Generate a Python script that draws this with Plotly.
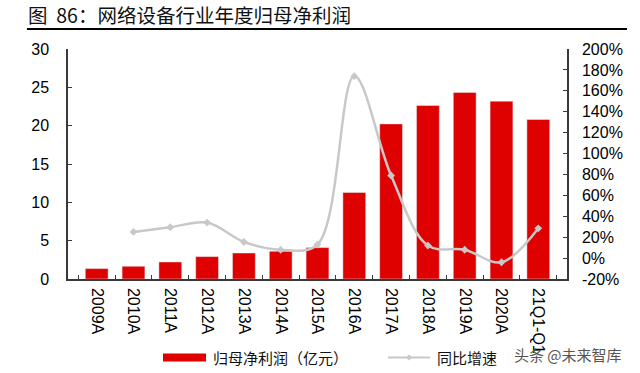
import plotly.graph_objects as go

categories = ["2009A", "2010A", "2011A", "2012A", "2013A", "2014A", "2015A",
              "2016A", "2017A", "2018A", "2019A", "2020A", "21Q1-Q1"]
profit = [1.36, 1.66, 2.22, 2.92, 3.39, 3.62, 4.10, 11.28, 20.23, 22.63, 24.33, 23.2, 20.8]
growth = [None, 25, 29.5, 34, 15.4, 8, 13, 174, 79, 12, 8, -4, 28.5]

left_ticks = [0, 5, 10, 15, 20, 25, 30]
right_ticks = list(range(-20, 201, 20))
right_labels = [f"{v}%" for v in right_ticks]

FONT = "Liberation Sans, Arial, Noto Sans CJK SC, sans-serif"
CJK = "Noto Sans CJK SC, sans-serif"
RED = "#DF0000"
GRAY = "#C8C8C8"
AX = "#3a3a3a"

W, H = 499, 229.7  # plot area size in px

fig = go.Figure()
fig.add_trace(go.Bar(x=categories, y=profit, marker_color=RED, width=0.62,
                     name="归母净利润（亿元）", yaxis="y"))
fig.add_trace(go.Scatter(x=categories, y=growth, mode="lines+markers",
                         line=dict(color=GRAY, width=2.5, shape="spline", smoothing=1.0),
                         marker=dict(symbol="diamond", size=6, color=GRAY),
                         name="同比增速", yaxis="y2", connectgaps=False))

fig.update_layout(
    width=640, height=373,
    margin=dict(l=68, r=73, t=49, b=94.3, autoexpand=False),
    paper_bgcolor="white", plot_bgcolor="white",
    showlegend=False,
    font=dict(family=FONT, size=15, color="#000"),
    xaxis=dict(type="category", showline=True, linecolor=AX, linewidth=1.5,
               ticks="inside", tickson="boundaries", ticklen=4, tickcolor=AX,
               tickangle=90, tickfont=dict(size=16), showgrid=False, zeroline=False,
               ticklabelstandoff=4, automargin=False),
    yaxis=dict(range=[0, 30], tickvals=left_ticks, showline=True, linecolor=AX,
               linewidth=1.5, ticks="inside", ticklen=4, tickcolor=AX,
               showgrid=False, zeroline=False, tickfont=dict(size=16),
               ticklabelstandoff=14, automargin=False),
    yaxis2=dict(range=[-20, 200], tickvals=right_ticks, ticktext=right_labels,
                overlaying="y", side="right", showline=True, linecolor=AX,
                linewidth=1.5, ticks="inside", ticklen=4, tickcolor=AX,
                showgrid=False, zeroline=False, tickfont=dict(size=16),
                ticklabelstandoff=10, automargin=False),
)

def px_x(x):
    return (x - 68) / W

def px_y(y):
    return (278.7 - y) / H

# Title and underline
fig.add_annotation(text="图\u00a0\u00a086：网络设备行业年度归母净利润", xref="paper", yref="paper",
                   x=px_x(26), y=px_y(15), xanchor="left", yanchor="middle",
                   showarrow=False, font=dict(family=CJK, size=19.5, color="#111"))
fig.add_shape(type="line", xref="paper", yref="paper",
              x0=px_x(27), x1=px_x(627), y0=px_y(29), y1=px_y(29),
              line=dict(color="#000", width=2))

# Custom legend
ly = px_y(357)
fig.add_shape(type="rect", xref="paper", yref="paper",
              x0=px_x(163), x1=px_x(206), y0=px_y(361), y1=px_y(353),
              fillcolor=RED, line=dict(width=0))
fig.add_annotation(text="归母净利润（亿元）", xref="paper", yref="paper",
                   x=px_x(211), y=ly, xanchor="left", yanchor="middle",
                   showarrow=False, font=dict(family=CJK, size=15, color="#111"))
fig.add_shape(type="line", xref="paper", yref="paper",
              x0=px_x(388), x1=px_x(430), y0=ly, y1=ly,
              line=dict(color=GRAY, width=2))
fig.add_shape(type="path", xref="paper", yref="paper",
              path=f"M {px_x(409)} {px_y(354)} L {px_x(412)} {ly} L {px_x(409)} {px_y(360)} L {px_x(406)} {ly} Z",
              fillcolor=GRAY, line=dict(width=0))
fig.add_annotation(text="同比增速", xref="paper", yref="paper",
                   x=px_x(435), y=ly, xanchor="left", yanchor="middle",
                   showarrow=False, font=dict(family=CJK, size=15, color="#111"))
# Watermark
fig.add_annotation(text="头条 @未来智库", xref="paper", yref="paper",
                   x=px_x(512), y=px_y(354), xanchor="left", yanchor="middle",
                   showarrow=False, font=dict(family=CJK, size=15, color="#555"))

fig.write_html("out.html", config={"displayModeBar": False},
               post_script="document.body.style.margin='0';document.body.style.overflow='hidden';")
